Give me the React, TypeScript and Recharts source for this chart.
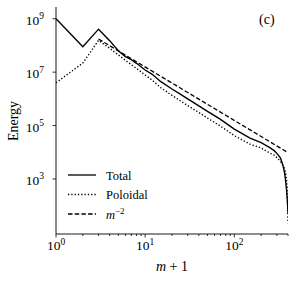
import { LineChart, Line, XAxis, YAxis, Legend, Label } from 'recharts';

// m + 1
const modes = [1, 2, 3, 4, 5, 6, 7, 8, 10, 12, 15, 20, 25, 30, 40, 50, 70, 100, 120, 150, 200, 250, 280, 300, 330, 350, 365, 375, 385, 392, 396, 400];

const totalEnergy = [1.0e9, 8.9e7, 4.07e8, 1.51e8, 6.3e7, 3.8e7, 2.95e7, 2.14e7, 1.2e7, 8.3e6, 4.4e6, 2.34e6, 1.48e6, 1.0e6, 5.5e5, 3.4e5, 1.7e5, 7.4e4, 5.2e4, 3.4e4, 2.3e4, 1.5e4, 1.15e4, 9.1e3, 6.0e3, 3.3e3, 1.8e3, 930, 400, 178, 100, 50];

const poloidalEnergy = [4.0e6, 2.2e7, 1.55e8, 7.8e7, 4.4e7, 2.8e7, 1.9e7, 1.38e7, 7.8e6, 5.0e6, 2.6e6, 1.35e6, 8.3e5, 5.6e5, 3.1e5, 1.9e5, 9.5e4, 4.2e4, 3.0e4, 2.0e4, 1.45e4, 9.3e3, 7.8e3, 6.3e3, 4.5e3, 3.3e3, 2.5e3, 1.8e3, 890, 400, 160, 22];

// m^-2 reference line (two end points)
const refModes = [3, 400];
const refEnergy = [1.74e8, 9.7e3];

const xTicks = [1, 2, 3, 4, 5, 6, 7, 8, 9, 10, 20, 30, 40, 50, 60, 70, 80, 90, 100, 200, 300, 400];
const yTicks = [1e3, 1e5, 1e7, 1e9];

const totalData = modes.map((m, i) => ({ m, v: totalEnergy[i] }));
const poloidalData = modes.map((m, i) => ({ m, v: poloidalEnergy[i] }));
const refData = refModes.map((m, i) => ({ m, v: refEnergy[i] }));

const FONT = '"Liberation Serif", "DejaVu Serif", serif';

const XTick = (props: any) => {
  const { x, y, payload } = props;
  const v = payload.value;
  const exp = Math.round(Math.log10(v));
  const major = Math.abs(Math.pow(10, exp) - v) < 1e-6;
  return (
    <g>
      <line x1={x} x2={x} y1={y} y2={y + (major ? 3.5 : 2)} stroke="#000" strokeWidth={0.8} />
      {major && (
        <text x={x} y={y + 16} textAnchor="middle" fontFamily={FONT} fontSize={13.5} fill="#000">
          10<tspan dy={-5.5} fontSize={9.5}>{exp}</tspan>
        </text>
      )}
    </g>
  );
};

const YTick = (props: any) => {
  const { x, y, payload } = props;
  const exp = Math.round(Math.log10(payload.value));
  return (
    <g>
      <line x1={x} x2={x - 3.5} y1={y} y2={y} stroke="#000" strokeWidth={0.8} />
      <text x={x - 12} y={y + 6} textAnchor="end" fontFamily={FONT} fontSize={13.5} fill="#000">
        10<tspan dy={-5.5} fontSize={9.5}>{exp}</tspan>
      </text>
    </g>
  );
};

const LegendBox = () => {
  const rows = [
    { name: 'Total', dash: undefined },
    { name: 'Poloidal', dash: '1.3 2' },
    { name: 'm', dash: '4.5 2.2' },
  ];
  return (
    <svg width={110} height={62} style={{ display: 'block' }}>
      {rows.map((r, i) => (
        <g key={r.name}>
          <line x1={8} x2={36} y1={11 + i * 19.5} y2={11 + i * 19.5} stroke="#000" strokeWidth={1.3} strokeDasharray={r.dash} />
          <text x={46} y={15.5 + i * 19.5} fontFamily={FONT} fontSize={12.5} fill="#000">
            {i < 2 ? r.name : (
              <>
                <tspan fontStyle="italic">m</tspan>
                <tspan dy={-5} fontSize={9}>−2</tspan>
              </>
            )}
          </text>
        </g>
      ))}
    </svg>
  );
};

export default function App() {
  return (
    <div style={{ position: 'absolute', left: 0, top: 0, width: 297, height: 283, background: '#fff' }}>
      <LineChart width={297} height={283} margin={{ top: 7, right: 9, bottom: 0, left: 0 }}>
        <XAxis
          dataKey="m"
          type="number"
          scale="log"
          domain={[1, 400]}
          allowDataOverflow
          ticks={xTicks}
          interval={0}
          tick={<XTick />}
          tickLine={false}
          tickSize={0}
          tickMargin={0}
          height={49}
          axisLine={{ stroke: '#000', strokeWidth: 0.9 }}
        >
          <Label
            content={() => (
              <text x={172} y={271} textAnchor="middle" fontFamily={FONT} fontSize={14} fill="#000">
                <tspan fontStyle="italic">m</tspan> + 1
              </text>
            )}
          />
        </XAxis>
        <XAxis xAxisId="top" orientation="top" type="number" domain={[1, 400]} scale="log" tick={false} tickLine={false} height={0} axisLine={{ stroke: '#000', strokeWidth: 0.9 }} />
        <YAxis
          type="number"
          scale="log"
          domain={[8.7, 2.75e9]}
          allowDataOverflow
          ticks={yTicks}
          interval={0}
          tick={<YTick />}
          tickLine={false}
          tickSize={0}
          tickMargin={0}
          width={56}
          axisLine={{ stroke: '#000', strokeWidth: 0.9 }}
        >
          <Label
            content={() => (
              <text x={18} y={121} transform="rotate(-90 18 121)" textAnchor="middle" fontFamily={FONT} fontSize={14} fill="#000">
                Energy
              </text>
            )}
          />
        </YAxis>
        <YAxis yAxisId="right" orientation="right" type="number" scale="log" domain={[8.7, 2.75e9]} tick={false} tickLine={false} width={0} axisLine={{ stroke: '#000', strokeWidth: 0.9 }} />
        <Legend
          layout="vertical"
          align="center"
          verticalAlign="middle"
          content={<LegendBox />}
          wrapperStyle={{ position: 'absolute', left: 60, top: 164, width: 110, height: 62 }}
        />
        <Line data={totalData} dataKey="v" name="Total" stroke="#000" strokeWidth={1.4} dot={false} isAnimationActive={false} type="linear" />
        <Line data={poloidalData} dataKey="v" name="Poloidal" stroke="#000" strokeWidth={1.4} strokeDasharray="1.3 2" dot={false} isAnimationActive={false} type="linear" />
        <Line data={refData} dataKey="v" name="m^-2" stroke="#000" strokeWidth={1.3} strokeDasharray="4.5 2.2" dot={false} isAnimationActive={false} type="linear" />
      </LineChart>
      <div style={{ position: 'absolute', left: 259, top: 12, fontFamily: FONT, fontSize: 14, lineHeight: '16px', color: '#000' }}>(c)</div>
    </div>
  );
}
